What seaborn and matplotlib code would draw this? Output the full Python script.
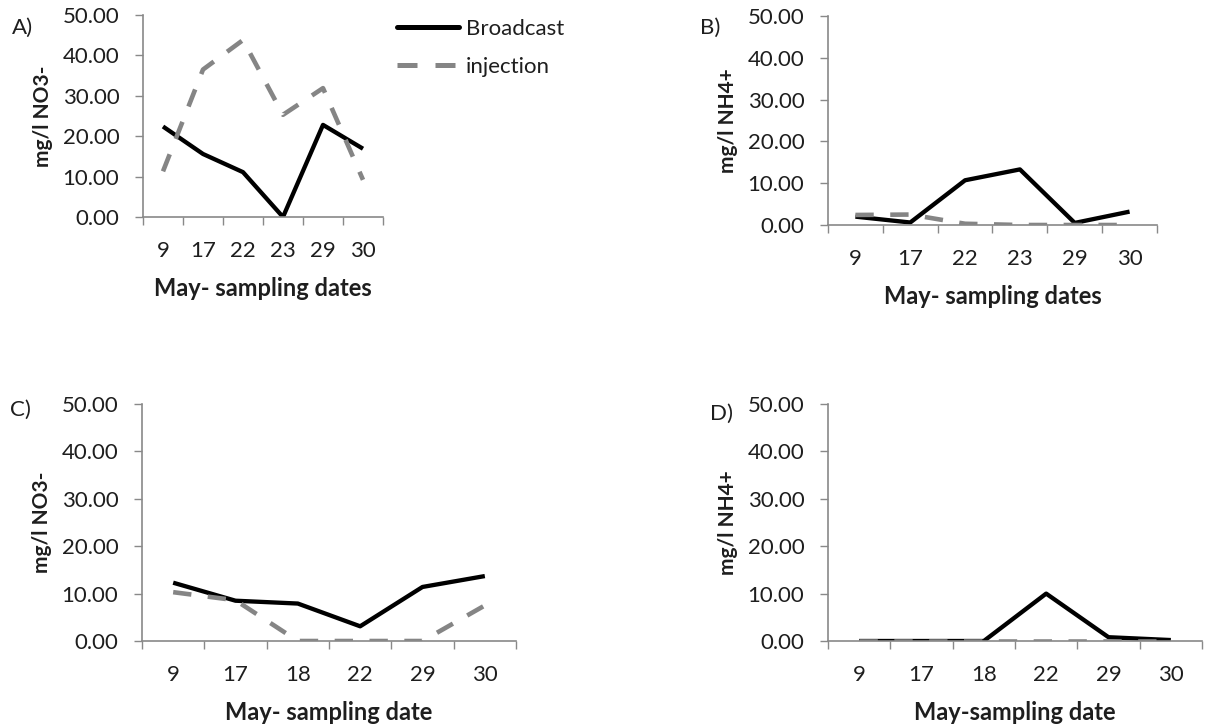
import pandas as pd
import seaborn as sns
import matplotlib.pyplot as plt
from matplotlib.ticker import FormatStrFormatter

# sampling dates (May)
dates_ab = ['9', '17', '22', '23', '29', '30']
dates_cd = ['9', '17', '18', '22', '29', '30']

# panel values, mg/l
a_broadcast = [22.4, 15.6, 11.1, 0.0, 22.8, 16.9]
a_injection = [11.3, 36.5, 43.8, 25.3, 31.9, 9.2]
b_broadcast = [2.0, 0.6, 10.7, 13.3, 0.5, 3.2]
b_injection = [2.4, 2.5, 0.3, 0.0, 0.0, 0.0]
c_broadcast = [12.3, 8.5, 7.9, 3.1, 11.4, 13.7]
c_injection = [10.3, 8.6, 0.0, 0.0, 0.0, 7.5]
d_broadcast = [0.0, 0.0, 0.0, 10.0, 0.8, 0.2]
d_injection = [0.0, 0.0, 0.0, 0.0, 0.0, 0.0]

treatments = ['Broadcast', 'injection']
panel_letters = ['A)', 'B)', 'C)', 'D)']
y_labels = ['mg/l NO3-', 'mg/l NH4+', 'mg/l NO3-', 'mg/l NH4+']
x_labels = ['May- sampling dates', 'May- sampling dates', 'May- sampling date', 'May-sampling date']

sns.set_style('white')
plt.rcParams['font.family'] = ['Lato', 'DejaVu Sans']

W, H = 1208, 728
fig = plt.figure(figsize=(W / 100, H / 100), dpi=100)


def make_axes(left, right, top, bottom):
    return fig.add_axes([left / W, 1 - bottom / H, (right - left) / W, (bottom - top) / H])


boxes = [(143, 383, 15, 217), (828, 1157, 16, 225), (142, 516, 404, 641), (828, 1202, 404, 641)]
letter_pos = [(12, 28), (700, 28), (10, 410), (710, 414)]
data = [
    (dates_ab, a_broadcast, a_injection),
    (dates_ab, b_broadcast, b_injection),
    (dates_cd, c_broadcast, c_injection),
    (dates_cd, d_broadcast, d_injection),
]

spine_col = '#898989'
text_col = '#1e1e1e'

for i, (box, (dates, bc, inj)) in enumerate(zip(boxes, data)):
    ax = make_axes(*box)
    df = pd.DataFrame({
        'date': dates * 2,
        'value': bc + inj,
        'treatment': ['Broadcast'] * len(dates) + ['injection'] * len(dates),
    })
    sns.lineplot(data=df, x='date', y='value', hue='treatment', style='treatment',
                 hue_order=treatments, style_order=treatments,
                 palette={'Broadcast': 'black', 'injection': '#858585'},
                 dashes={'Broadcast': '', 'injection': (4, 3.6)},
                 sort=False, ax=ax)
    for ln, lw in zip(ax.lines[:2], [3.1, 3.3]):
        ln.set_linewidth(lw)
        ln.set_solid_capstyle('butt')
        ln.set_dash_capstyle('butt')

    if i == 0:
        handles, labels = ax.get_legend_handles_labels()
    ax.get_legend().remove()

    ax.set_xlim(-0.5, 5.5)
    ax.set_ylim(0, 50)
    ax.set_yticks(range(0, 51, 10))
    ax.yaxis.set_major_formatter(FormatStrFormatter('%.2f'))
    ax.set_xticks(range(6))
    ax.set_xticklabels(dates)
    ax.set_xticks([k - 0.5 for k in range(7)], minor=True)
    ax.tick_params(axis='x', which='major', length=0, pad=17, labelsize=16, labelcolor=text_col)
    ax.tick_params(axis='x', which='minor', length=6, width=1, color=spine_col, direction='out')
    ax.tick_params(axis='y', length=6, width=1, color=spine_col, direction='out', pad=11,
                   labelsize=16, labelcolor=text_col)
    ax.tick_params(left=True, bottom=True, which='both')

    for side in ['top', 'right']:
        ax.spines[side].set_visible(False)
    for side in ['left', 'bottom']:
        ax.spines[side].set_color(spine_col)
        ax.spines[side].set_linewidth(1.2)

    ax.set_xlabel(x_labels[i], fontsize=17, fontweight='bold', color=text_col, labelpad=12)
    ax.set_ylabel(y_labels[i], fontsize=15, fontweight='bold', color=text_col, labelpad=7)

    lx, ly = letter_pos[i]
    fig.text(lx / W, 1 - ly / H, panel_letters[i], fontsize=16, color=text_col,
             va='center', ha='left')

leg = fig.legend(handles, labels, loc='upper left', bbox_to_anchor=(386 / W, 1 - 8 / H),
                 frameon=False, fontsize=16, borderpad=0, handlelength=2.8,
                 handletextpad=0.3, labelspacing=0.8)
for t in leg.get_texts():
    t.set_color(text_col)
for h in leg.get_lines():
    h.set_linewidth(3.6)

fig.savefig('out.png', dpi=100)
